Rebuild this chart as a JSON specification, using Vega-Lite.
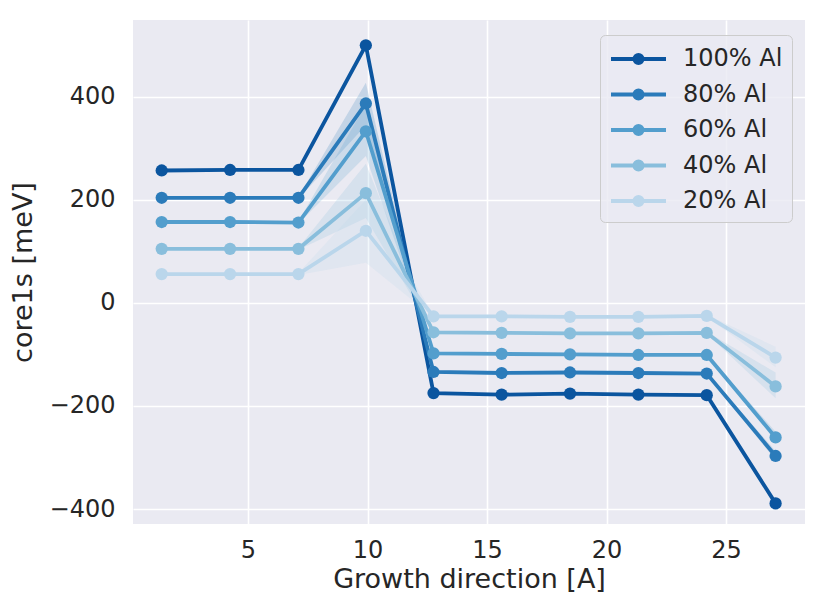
{
  "$schema": "https://vega.github.io/schema/vega-lite/v6.json",
  "width": 672,
  "height": 504,
  "autosize": {"type": "none"},
  "padding": {"left": 133, "top": 20, "right": 25, "bottom": 88},
  "background": "white",
  "config": {
    "view": {"fill": "#eaeaf2", "stroke": null},
    "font": "DejaVu Sans",
    "axis": {
      "grid": true,
      "gridColor": "white",
      "gridWidth": 1.6,
      "domain": false,
      "ticks": false,
      "labelFont": "DejaVu Sans",
      "labelFontSize": 24,
      "labelColor": "#262626",
      "titleFont": "DejaVu Sans",
      "titleFontSize": 27,
      "titleFontWeight": "normal",
      "titleColor": "#262626"
    }
  },
  "data": {
    "values": [
      {"s": "100% Al", "x": 1.39, "y": 257, "lo": 255, "hi": 259},
      {"s": "100% Al", "x": 4.25, "y": 258, "lo": 256, "hi": 260},
      {"s": "100% Al", "x": 7.11, "y": 258, "lo": 256, "hi": 260},
      {"s": "100% Al", "x": 9.93, "y": 500, "lo": 494, "hi": 506},
      {"s": "100% Al", "x": 12.76, "y": -175, "lo": -177, "hi": -173},
      {"s": "100% Al", "x": 15.61, "y": -178, "lo": -180, "hi": -176},
      {"s": "100% Al", "x": 18.47, "y": -176, "lo": -178, "hi": -174},
      {"s": "100% Al", "x": 21.33, "y": -178, "lo": -180, "hi": -176},
      {"s": "100% Al", "x": 24.19, "y": -179, "lo": -181, "hi": -177},
      {"s": "100% Al", "x": 27.07, "y": -389, "lo": -393, "hi": -385},
      {"s": "80% Al", "x": 1.39, "y": 204, "lo": 202, "hi": 206},
      {"s": "80% Al", "x": 4.25, "y": 204, "lo": 202, "hi": 206},
      {"s": "80% Al", "x": 7.11, "y": 204, "lo": 202, "hi": 206},
      {"s": "80% Al", "x": 9.93, "y": 387, "lo": 345, "hi": 427},
      {"s": "80% Al", "x": 12.76, "y": -134, "lo": -136, "hi": -132},
      {"s": "80% Al", "x": 15.61, "y": -136, "lo": -138, "hi": -134},
      {"s": "80% Al", "x": 18.47, "y": -135, "lo": -137, "hi": -133},
      {"s": "80% Al", "x": 21.33, "y": -136, "lo": -138, "hi": -134},
      {"s": "80% Al", "x": 24.19, "y": -137, "lo": -139, "hi": -135},
      {"s": "80% Al", "x": 27.07, "y": -297, "lo": -305, "hi": -288},
      {"s": "60% Al", "x": 1.39, "y": 157, "lo": 155, "hi": 159},
      {"s": "60% Al", "x": 4.25, "y": 157, "lo": 155, "hi": 159},
      {"s": "60% Al", "x": 7.11, "y": 156, "lo": 154, "hi": 158},
      {"s": "60% Al", "x": 9.93, "y": 333, "lo": 285, "hi": 385},
      {"s": "60% Al", "x": 12.76, "y": -98, "lo": -100, "hi": -96},
      {"s": "60% Al", "x": 15.61, "y": -99, "lo": -101, "hi": -97},
      {"s": "60% Al", "x": 18.47, "y": -100, "lo": -102, "hi": -98},
      {"s": "60% Al", "x": 21.33, "y": -101, "lo": -103, "hi": -99},
      {"s": "60% Al", "x": 24.19, "y": -101, "lo": -103, "hi": -99},
      {"s": "60% Al", "x": 27.07, "y": -261, "lo": -268, "hi": -250},
      {"s": "40% Al", "x": 1.39, "y": 105, "lo": 103, "hi": 107},
      {"s": "40% Al", "x": 4.25, "y": 105, "lo": 103, "hi": 107},
      {"s": "40% Al", "x": 7.11, "y": 105, "lo": 103, "hi": 107},
      {"s": "40% Al", "x": 9.93, "y": 213, "lo": 165, "hi": 270},
      {"s": "40% Al", "x": 12.76, "y": -57, "lo": -59, "hi": -55},
      {"s": "40% Al", "x": 15.61, "y": -58, "lo": -60, "hi": -56},
      {"s": "40% Al", "x": 18.47, "y": -59, "lo": -61, "hi": -57},
      {"s": "40% Al", "x": 21.33, "y": -59, "lo": -61, "hi": -57},
      {"s": "40% Al", "x": 24.19, "y": -58, "lo": -60, "hi": -56},
      {"s": "40% Al", "x": 27.07, "y": -162, "lo": -185, "hi": -135},
      {"s": "20% Al", "x": 1.39, "y": 56, "lo": 54, "hi": 58},
      {"s": "20% Al", "x": 4.25, "y": 56, "lo": 54, "hi": 58},
      {"s": "20% Al", "x": 7.11, "y": 56, "lo": 54, "hi": 58},
      {"s": "20% Al", "x": 9.93, "y": 140, "lo": 78, "hi": 200},
      {"s": "20% Al", "x": 12.76, "y": -26, "lo": -28, "hi": -24},
      {"s": "20% Al", "x": 15.61, "y": -26, "lo": -28, "hi": -24},
      {"s": "20% Al", "x": 18.47, "y": -27, "lo": -29, "hi": -25},
      {"s": "20% Al", "x": 21.33, "y": -27, "lo": -29, "hi": -25},
      {"s": "20% Al", "x": 24.19, "y": -25, "lo": -27, "hi": -23},
      {"s": "20% Al", "x": 27.07, "y": -106, "lo": -125, "hi": -85}
    ]
  },
  "encoding": {
    "x": {
      "field": "x",
      "type": "quantitative",
      "title": "Growth direction [A]",
      "scale": {"domain": [0.19, 28.3], "nice": false, "zero": false},
      "axis": {"values": [5, 10, 15, 20, 25], "labelPadding": 14, "titlePadding": 4}
    },
    "color": {
      "field": "s",
      "type": "nominal",
      "scale": {
        "domain": ["100% Al", "80% Al", "60% Al", "40% Al", "20% Al"],
        "range": ["#0b559f", "#2b7bba", "#539ecd", "#89bedc", "#bad6eb"]
      },
      "legend": {
        "title": null,
        "orient": "none",
        "legendX": 467,
        "legendY": 15,
        "padding": 9,
        "fillColor": "rgba(234,234,242,0.8)",
        "strokeColor": "#cccccc",
        "cornerRadius": 5,
        "labelFont": "DejaVu Sans",
        "labelFontSize": 24,
        "labelColor": "#262626",
        "labelLimit": 300,
        "rowPadding": 8.5,
        "symbolType": "M-1,0H3.23M0.795,0A0.32,0.32 0 1,0 1.435,0A0.32,0.32 0 1,0 0.795,0",
        "symbolSize": 676,
        "symbolStrokeWidth": 3.8,
        "symbolOpacity": 1,
        "labelOffset": 44,
        "encode": {
          "symbols": {
            "update": {
              "fill": {"scale": "color", "field": "value"},
              "stroke": {"scale": "color", "field": "value"},
              "opacity": {"value": 1}
            }
          }
        }
      }
    }
  },
  "layer": [
    {
      "mark": {"type": "area", "opacity": 0.2},
      "encoding": {
        "y": {"field": "lo", "type": "quantitative"},
        "y2": {"field": "hi"}
      }
    },
    {
      "mark": {"type": "line", "strokeWidth": 3.8},
      "encoding": {
        "y": {
          "field": "y",
          "type": "quantitative",
          "title": "core1s [meV]",
          "scale": {"domain": [-429, 549], "nice": false, "zero": false},
          "axis": {"values": [-400, -200, 0, 200, 400], "labelPadding": 18, "titlePadding": 12}
        }
      }
    },
    {
      "mark": {"type": "point", "filled": true, "size": 150, "opacity": 1},
      "encoding": {
        "y": {"field": "y", "type": "quantitative"}
      }
    }
  ]
}
